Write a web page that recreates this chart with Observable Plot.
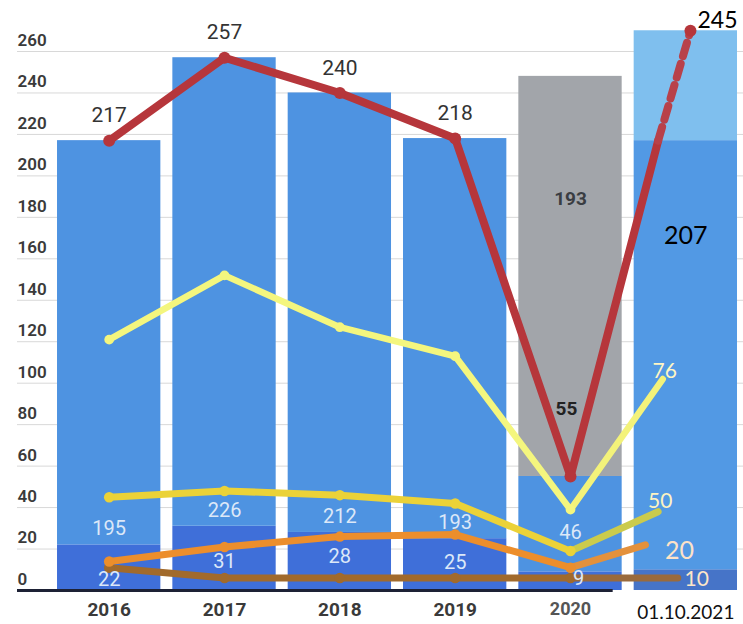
<!DOCTYPE html>
<html>
<head>
<meta charset="utf-8">
<script src="https://cdn.jsdelivr.net/npm/d3@7"></script>
<script src="https://cdn.jsdelivr.net/npm/@observablehq/plot@0.6"></script>
<style>
  html, body { margin: 0; padding: 0; background: #fff; }
  svg { display: block; }
</style>
</head>
<body>
<div id="chart"></div>
<script>
// ---- data ----
const years = ["2016", "2017", "2018", "2019", "2020", "01.10.2021"];
const darkVals = [22, 31, 28, 25, 9, 10];
const blueVals = [195, 226, 212, 193, 46, 207];
const extraVals = [0, 0, 0, 0, 193, 53];
const yTicks = [0, 20, 40, 60, 80, 100, 120, 140, 160, 180, 200, 220, 240, 260];

const redVals = [217, 257, 240, 218, 55];
const redLabels = ["217", "257", "240", "218", "55", "245"];
const redTail = [[4.76, 217], [5.04, 270]];

const paleVals = [121, 152, 127, 113, 39];
const paleEnd = [4.8, 102];
const yellowVals = [45, 48, 46, 42, 19];
const yellowEnd = [4.76, 38];
const orangeVals = [14, 21, 26, 27, 11];
const orangeEnd = [4.65, 22];
const brownVals = [11, 6, 6, 6, 6];
const brownEnd = [4.93, 6];
const endLabels = ["76", "50", "20", "10"];

// ---- derived tables ----
const idx = years.map((_, i) => i);
const segs = [];
idx.forEach(i => {
  const b0 = 0, b1 = darkVals[i], b2 = b1 + blueVals[i], b3 = b2 + extraVals[i];
  segs.push({i, y1: b0, y2: b1, fill: i === 5 ? "#4674c8" : "#3f6fd9"});
  segs.push({i, y1: b1, y2: b2, fill: i === 5 ? "#5299e4" : "#4e93e1"});
  if (extraVals[i] > 0) segs.push({i, y1: b2, y2: b3, fill: i === 4 ? "#a2a5aa" : "#7fbfee"});
});
const redPts = redVals.map((v, i) => ({x: i, y: v})).concat([{x: redTail[0][0], y: redTail[0][1]}]);
const redDash = redTail.map(([x, y]) => ({x, y}));
const redDots = redVals.map((v, i) => ({x: i, y: v})).concat([{x: redTail[1][0], y: redTail[1][1]}]);

const font = "Roboto, 'Noto Sans', sans-serif";
const calib = "Lato, 'Open Sans', sans-serif";

function series(vals, end, color, endColor, w) {
  const main = vals.map((v, i) => ({x: i, y: v}));
  const last = [{x: 4, y: vals[4]}, {x: end[0], y: end[1]}];
  return [
    Plot.line(main, {x: "x", y: "y", stroke: color, strokeWidth: w, strokeLinejoin: "round"}),
    Plot.line(last, {x: "x", y: "y", stroke: endColor, strokeWidth: w}),
    Plot.dot(main, {x: "x", y: "y", r: w * 0.75, fill: color, stroke: "none"})
  ];
}
const lbl = {fontSize: 20, fill: "#dce8f8"};

const plot = Plot.plot({
  width: 743,
  height: 624,
  marginTop: 51,
  marginBottom: 34,
  marginLeft: 17,
  marginRight: 0,
  x: {domain: [-0.795, 5.5], axis: null},
  y: {domain: [0, 260], axis: null},
  style: {fontFamily: font, background: "#fff"},
  marks: [
    Plot.ruleY(yTicks.filter(d => d > 0), {stroke: "#d8d8d8", strokeWidth: 1}),
    Plot.rectY(segs, {x1: d => d.i - 0.448, x2: d => d.i + 0.448, y1: "y1", y2: "y2", fill: "fill"}),
    Plot.ruleY([0], {x1: -0.795, x2: 4.37, stroke: "#1d2135", strokeWidth: 3}),
    Plot.text(yTicks, {y: d => d, frameAnchor: "left", textAnchor: "start", dy: -11, text: d => String(d),
      fontSize: 17, fontWeight: 600, fill: "#3a3a3a"}),
    Plot.text(idx.slice(0, 4), {x: d => d, y: 0, dy: 19, text: d => years[d], fontSize: 19, fontWeight: 700,
      fill: "#3a3a3a"}),
    Plot.text([4], {x: d => d, y: 0, dy: 19, text: d => years[d], fontSize: 18, fontWeight: 700, fill: "#555"}),
    Plot.text([5], {x: d => d, y: 0, dy: 22, text: d => years[d], fontSize: 19, fontFamily: calib, fill: "#111"}),

    ...series(brownVals, brownEnd, "#a16a2c", "#9a6a3c", 7),
    ...series(orangeVals, orangeEnd, "#ec8e2c", "#e3913c", 7),
    ...series(yellowVals, yellowEnd, "#ebd238", "#cbcb4c", 7),
    ...series(paleVals, paleEnd, "#f4f67e", "#f3f27a", 6.5),

    Plot.line(redPts, {x: "x", y: "y", stroke: "#b6363b", strokeWidth: 8, strokeLinejoin: "round"}),
    Plot.line(redDash, {x: "x", y: "y", stroke: "#b8414a", strokeWidth: 8, strokeDasharray: "14,8"}),
    Plot.dot(redDots, {x: "x", y: "y", r: 6, fill: "#b6363b"}),

    // red labels
    Plot.text(idx.slice(0, 4), {x: d => d, y: d => redVals[d], dy: -25, text: d => redLabels[d],
      fontSize: 21, fill: "#333"}),
    Plot.text([4], {x: d => d, y: d => redVals[d], dy: -68, dx: -4, text: d => redLabels[d],
      fontSize: 19, fontWeight: 700, fill: "#222"}),
    Plot.text([0], {x: () => redTail[1][0], y: () => redTail[1][1], dx: 7, dy: -10, textAnchor: "start",
      text: () => redLabels[5], fontSize: 23, fontFamily: calib, fill: "#000"}),

    // bar labels
    Plot.text(idx.slice(0, 4), {x: d => d, y: d => darkVals[d], dy: -16, text: d => String(blueVals[d]), ...lbl}),
    Plot.text([0, 1], {x: d => d, y: d => darkVals[d], dy: 35, text: d => String(darkVals[d]), ...lbl}),
    Plot.text([2, 3], {x: d => d, y: d => darkVals[d], dy: 24, text: d => String(darkVals[d]), ...lbl}),
    Plot.text([4], {x: d => d, y: 0, dy: -12, dx: 8, text: d => String(darkVals[d]), ...lbl}),
    Plot.text([4], {x: d => d, y: d => darkVals[d], dy: -39, text: d => String(blueVals[d]), ...lbl}),
    Plot.text([4], {x: d => d, y: d => darkVals[d] + blueVals[d] + extraVals[d], dy: 123,
      text: d => String(extraVals[d]), fontSize: 19, fontWeight: 700, fill: "#3a3d42"}),
    Plot.text([5], {x: d => d, y: d => darkVals[d] + blueVals[d], dy: 95,
      text: d => String(blueVals[d]), fontSize: 25, fontFamily: calib, fill: "#000"}),

    // 2021 end labels
    Plot.text([paleEnd], {x: d => d[0], y: d => d[1], dy: -8, dx: 2, text: () => endLabels[0],
      fontSize: 21, fontFamily: calib, fill: "#fff6c4"}),
    Plot.text([yellowEnd], {x: d => d[0], y: d => d[1], dy: -10, dx: 2, text: () => endLabels[1],
      fontSize: 21, fontFamily: calib, fill: "#fdf3c2"}),
    Plot.text([orangeEnd], {x: d => d[0], y: d => d[1], dy: 6, dx: 34, text: () => endLabels[2],
      fontSize: 25, fontFamily: calib, fill: "#fde2c8"}),
    Plot.text([brownEnd], {x: d => d[0], y: d => d[1], dy: 1, dx: 19, text: () => endLabels[3],
      fontSize: 21, fontFamily: calib, fill: "#fde6c8"})
  ]
});
document.getElementById("chart").appendChild(plot);
</script>
</body>
</html>
